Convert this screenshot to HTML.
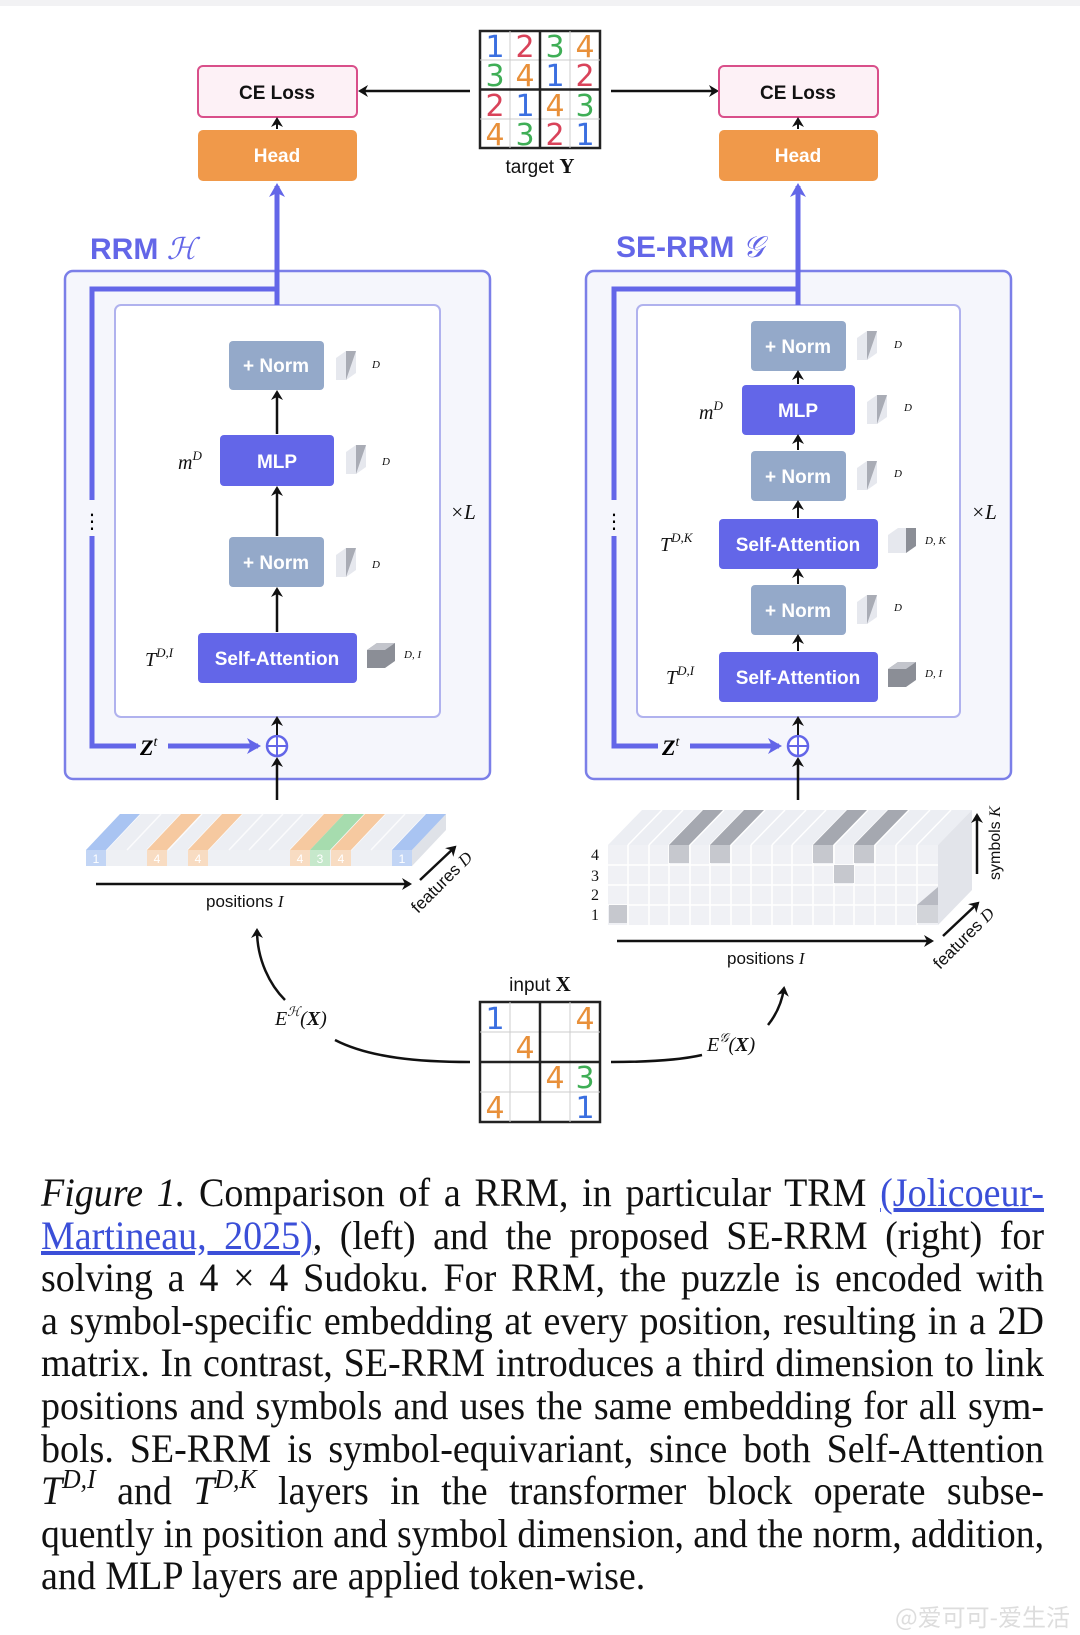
<!DOCTYPE html>
<html><head><meta charset="utf-8"><style>
html,body{margin:0;padding:0;background:#fff;}
body{width:1080px;height:1635px;position:relative;overflow:hidden;}
#cap{position:absolute;left:41px;top:1172px;width:1003px;font-family:"Liberation Serif",serif;font-size:40px;line-height:42.6px;color:#111;}
#cap div{height:42.6px;white-space:nowrap;overflow:visible;}
#cap span.l{display:inline-block;white-space:nowrap;transform-origin:0 0;transform:scaleX(0.88);}
#cap a{color:#3b4fd8;text-decoration:underline;}
.ss{font-size:27px;position:relative;top:-16px;font-style:italic;line-height:0;}
</style></head><body>
<svg width="1080" height="1160" viewBox="0 0 1080 1160" style="position:absolute;left:0;top:0" font-family="Liberation Sans, DejaVu Sans, sans-serif">
<defs>
<marker id="a" markerWidth="12" markerHeight="12" refX="8" refY="6" orient="auto" markerUnits="userSpaceOnUse"><path d="M0,0 L10,6 L0,12 L3,6z" fill="#111"/></marker>
<marker id="b" markerWidth="16" markerHeight="16" refX="11" refY="8" orient="auto" markerUnits="userSpaceOnUse"><path d="M0,0 L14,8 L0,16 L4,8z" fill="#6366e8"/></marker>
</defs>
<rect x="0" y="0" width="1080" height="6" fill="#f2f2f4"/>
<g font-size="30" text-anchor="middle" font-family="DejaVu Sans, sans-serif">
<rect x="480" y="31" width="120" height="117" fill="#fff" stroke="#222" stroke-width="2.5"/>
<path d="M510 31V148M570 31V148M480 60H600M480 119H600" stroke="#ccc" stroke-width="1"/>
<path d="M540 31V148M480 89.5H600" stroke="#222" stroke-width="2.5"/>
<text x="495" y="57" fill="#3b6fe0">1</text><text x="525" y="57" fill="#d9435a">2</text><text x="555" y="57" fill="#3fae56">3</text><text x="585" y="57" fill="#e8903a">4</text>
<text x="495" y="86" fill="#3fae56">3</text><text x="525" y="86" fill="#e8903a">4</text><text x="555" y="86" fill="#3b6fe0">1</text><text x="585" y="86" fill="#d9435a">2</text>
<text x="495" y="116" fill="#d9435a">2</text><text x="525" y="116" fill="#3b6fe0">1</text><text x="555" y="116" fill="#e8903a">4</text><text x="585" y="116" fill="#3fae56">3</text>
<text x="495" y="145" fill="#e8903a">4</text><text x="525" y="145" fill="#3fae56">3</text><text x="555" y="145" fill="#d9435a">2</text><text x="585" y="145" fill="#3b6fe0">1</text>
</g>
<text x="540" y="173" font-size="19" text-anchor="middle" fill="#111">target <tspan font-family="Liberation Serif" font-weight="bold" font-size="21">Y</tspan></text>
<path d="M470 91H360" stroke="#111" stroke-width="2.5" marker-end="url(#a)"/>
<path d="M611 91H717" stroke="#111" stroke-width="2.5" marker-end="url(#a)"/>
<g font-size="19" font-weight="bold" text-anchor="middle">
<rect x="198" y="66" width="159" height="51" rx="5" fill="#fdf1f6" stroke="#d94f8a" stroke-width="2"/>
<text x="277" y="99" fill="#111">CE Loss</text>
<rect x="719" y="66" width="159" height="51" rx="5" fill="#fdf1f6" stroke="#d94f8a" stroke-width="2"/>
<text x="798" y="99" fill="#111">CE Loss</text>
<rect x="198" y="130" width="159" height="51" rx="5" fill="#f0994a"/>
<text x="277" y="162" fill="#fff">Head</text>
<rect x="719" y="130" width="159" height="51" rx="5" fill="#f0994a"/>
<text x="798" y="162" fill="#fff">Head</text>
</g>
<path d="M277 129V119" stroke="#111" stroke-width="2" marker-end="url(#a)"/>
<path d="M798 129V119" stroke="#111" stroke-width="2" marker-end="url(#a)"/>
<text x="90" y="259" font-size="30" font-weight="bold" fill="#6366e8">RRM <tspan font-family="Liberation Serif" font-style="italic" font-weight="normal">ℋ</tspan></text>
<text x="616" y="257" font-size="30" font-weight="bold" fill="#6366e8">SE-RRM <tspan font-family="Liberation Serif" font-style="italic" font-weight="normal">𝒢</tspan></text>
<!-- LEFT -->
<rect x="65" y="271" width="425" height="508" rx="8" fill="#f5f6fc" stroke="#7b7fe8" stroke-width="2.5"/>
<rect x="115" y="305" width="325" height="412" rx="6" fill="#fff" stroke="#b0b2ee" stroke-width="2"/>
<path d="M277 305V289H92V746H258" fill="none" stroke="#6366e8" stroke-width="5" marker-end="url(#b)"/>
<path d="M277 289V186" fill="none" stroke="#6366e8" stroke-width="5" marker-end="url(#b)"/>
<rect x="86" y="500" width="12" height="36" fill="#f5f6fc"/>
<text x="92" y="528" font-size="20" text-anchor="middle">⋮</text>
<rect x="136" y="734" width="32" height="26" fill="#f5f6fc"/>
<text x="140" y="755" font-family="Liberation Serif" font-weight="bold" font-style="italic" font-size="22">Z<tspan font-size="14" dy="-9" font-weight="normal">t</tspan></text>
<circle cx="277" cy="746" r="10" fill="#fff" stroke="#6366e8" stroke-width="2.5"/>
<path d="M267 746H287M277 736V756" stroke="#6366e8" stroke-width="2"/>
<path d="M277 800V759" stroke="#111" stroke-width="2.5" marker-end="url(#a)"/>
<path d="M277 735V718" stroke="#111" stroke-width="2" marker-end="url(#a)"/>
<g font-size="19" font-weight="bold" text-anchor="middle" fill="#fff">
<rect x="229" y="341" width="95" height="49" rx="4" fill="#94a9c9"/><text x="276" y="372">+ Norm</text>
<rect x="220" y="435" width="114" height="51" rx="4" fill="#6366e8"/><text x="277" y="468">MLP</text>
<rect x="229" y="537" width="95" height="50" rx="4" fill="#94a9c9"/><text x="276" y="569">+ Norm</text>
<rect x="198" y="633" width="159" height="50" rx="4" fill="#6366e8"/><text x="277" y="665">Self-Attention</text>
</g>
<path d="M277 434V392" stroke="#111" stroke-width="2.5" marker-end="url(#a)"/>
<path d="M277 536V488" stroke="#111" stroke-width="2.5" marker-end="url(#a)"/>
<path d="M277 632V589" stroke="#111" stroke-width="2.5" marker-end="url(#a)"/>
<g font-family="Liberation Serif" font-style="italic" fill="#111">
<text x="178" y="469" font-size="20">m<tspan font-size="13" dy="-9">D</tspan></text>
<text x="145" y="666" font-size="20">T<tspan font-size="13" dy="-9">D,I</tspan></text>
<text x="450" y="519" font-size="21">×L</text>
<text x="372" y="368" font-size="11">D</text><text x="382" y="465" font-size="11">D</text>
<text x="372" y="568" font-size="11">D</text><text x="404" y="658" font-size="11">D, I</text>
</g>
<g>
<path d="M336 358l10-7h10v22l-10 7h-10z" fill="#e6e8ee"/><path d="M346 351h10l-10 29z" fill="#a9acb5"/>
<path d="M346 452l10-7h10v22l-10 7h-10z" fill="#e6e8ee"/><path d="M356 445h10l-10 29z" fill="#a9acb5"/>
<path d="M336 555l10-7h10v22l-10 7h-10z" fill="#e6e8ee"/><path d="M346 548h10l-10 29z" fill="#a9acb5"/>
<path d="M367 650l10-7h18v18l-10 7h-18z" fill="#8b8e96"/><path d="M367 650l10-7h18l-10 7z" fill="#c3c5cc"/>
</g>
<!-- RIGHT -->
<rect x="586" y="271" width="425" height="508" rx="8" fill="#f5f6fc" stroke="#7b7fe8" stroke-width="2.5"/>
<rect x="637" y="305" width="323" height="412" rx="6" fill="#fff" stroke="#b0b2ee" stroke-width="2"/>
<path d="M798 305V289H614V746H779" fill="none" stroke="#6366e8" stroke-width="5" marker-end="url(#b)"/>
<path d="M798 289V186" fill="none" stroke="#6366e8" stroke-width="5" marker-end="url(#b)"/>
<rect x="608" y="500" width="12" height="36" fill="#f5f6fc"/>
<text x="614" y="528" font-size="20" text-anchor="middle">⋮</text>
<rect x="658" y="734" width="32" height="26" fill="#f5f6fc"/>
<text x="662" y="755" font-family="Liberation Serif" font-weight="bold" font-style="italic" font-size="22">Z<tspan font-size="14" dy="-9" font-weight="normal">t</tspan></text>
<circle cx="798" cy="746" r="10" fill="#fff" stroke="#6366e8" stroke-width="2.5"/>
<path d="M788 746H808M798 736V756" stroke="#6366e8" stroke-width="2"/>
<path d="M798 800V759" stroke="#111" stroke-width="2.5" marker-end="url(#a)"/>
<path d="M798 735V718" stroke="#111" stroke-width="2" marker-end="url(#a)"/>
<g font-size="19" font-weight="bold" text-anchor="middle" fill="#fff">
<rect x="751" y="321" width="95" height="50" rx="4" fill="#94a9c9"/><text x="798" y="353">+ Norm</text>
<rect x="742" y="385" width="113" height="50" rx="4" fill="#6366e8"/><text x="798" y="417">MLP</text>
<rect x="751" y="451" width="95" height="50" rx="4" fill="#94a9c9"/><text x="798" y="483">+ Norm</text>
<rect x="719" y="519" width="159" height="50" rx="4" fill="#6366e8"/><text x="798" y="551">Self-Attention</text>
<rect x="751" y="585" width="95" height="50" rx="4" fill="#94a9c9"/><text x="798" y="617">+ Norm</text>
<rect x="719" y="652" width="159" height="50" rx="4" fill="#6366e8"/><text x="798" y="684">Self-Attention</text>
</g>
<path d="M798 384V372" stroke="#111" stroke-width="2" marker-end="url(#a)"/>
<path d="M798 450V436" stroke="#111" stroke-width="2" marker-end="url(#a)"/>
<path d="M798 518V502" stroke="#111" stroke-width="2" marker-end="url(#a)"/>
<path d="M798 584V570" stroke="#111" stroke-width="2" marker-end="url(#a)"/>
<path d="M798 651V636" stroke="#111" stroke-width="2" marker-end="url(#a)"/>
<g font-family="Liberation Serif" font-style="italic" fill="#111">
<text x="699" y="419" font-size="20">m<tspan font-size="13" dy="-9">D</tspan></text>
<text x="660" y="551" font-size="20">T<tspan font-size="13" dy="-9">D,K</tspan></text>
<text x="666" y="684" font-size="20">T<tspan font-size="13" dy="-9">D,I</tspan></text>
<text x="971" y="519" font-size="21">×L</text>
<text x="894" y="348" font-size="11">D</text><text x="904" y="411" font-size="11">D</text>
<text x="894" y="477" font-size="11">D</text><text x="925" y="544" font-size="11">D, K</text>
<text x="894" y="611" font-size="11">D</text><text x="925" y="677" font-size="11">D, I</text>
</g>
<g>
<path d="M857 338l10-7h10v22l-10 7h-10z" fill="#e6e8ee"/><path d="M867 331h10l-10 29z" fill="#a9acb5"/>
<path d="M867 402l10-7h10v22l-10 7h-10z" fill="#e6e8ee"/><path d="M877 395h10l-10 29z" fill="#a9acb5"/>
<path d="M857 468l10-7h10v22l-10 7h-10z" fill="#e6e8ee"/><path d="M867 461h10l-10 29z" fill="#a9acb5"/>
<path d="M888 535l10-7h18v18l-10 7h-18z" fill="#e6e8ee"/><path d="M906 528h10v18l-10 7z" fill="#8b8e96"/>
<path d="M857 602l10-7h10v22l-10 7h-10z" fill="#e6e8ee"/><path d="M867 595h10l-10 29z" fill="#a9acb5"/>
<path d="M888 669l10-7h18v18l-10 7h-18z" fill="#8b8e96"/><path d="M888 669l10-7h18l-10 7z" fill="#c3c5cc"/>
</g>
<!-- left embedding -->
<path d="M86 850L120 814H446L412 850Z" fill="#eceef3"/>
<rect x="86" y="850" width="326" height="16" fill="#eef0f4"/>
<path d="M412 850L446 814V830L412 866Z" fill="#dfe2e8"/>
<g stroke="#fff" stroke-width="1.5" opacity="0.8">
<path d="M106 850l34-36M127 850l34-36M147 850l34-36M168 850l34-36M188 850l34-36M208 850l34-36M229 850l34-36M249 850l34-36M269 850l34-36M290 850l34-36M310 850l34-36M331 850l34-36M351 850l34-36M371 850l34-36M392 850l34-36"/>
</g>
<path d="M86 850l34-36h20l-34 36z" fill="#a9c4f2"/><rect x="86" y="850" width="20" height="16" fill="#c2d5f5"/>
<path d="M147 850l34-36h20l-34 36z" fill="#f6c9a0"/><rect x="147" y="850" width="20" height="16" fill="#f8dcc2"/>
<path d="M188 850l34-36h20l-34 36z" fill="#f6c9a0"/><rect x="188" y="850" width="20" height="16" fill="#f8dcc2"/>
<path d="M290 850l34-36h20l-34 36z" fill="#f6c9a0"/><rect x="290" y="850" width="20" height="16" fill="#f8dcc2"/>
<path d="M310 850l34-36h20l-34 36z" fill="#a6dcae"/><rect x="310" y="850" width="20" height="16" fill="#c6e8cb"/>
<path d="M331 850l34-36h20l-34 36z" fill="#f6c9a0"/><rect x="331" y="850" width="20" height="16" fill="#f8dcc2"/>
<path d="M392 850l34-36h20l-34 36z" fill="#a9c4f2"/><rect x="392" y="850" width="20" height="16" fill="#c2d5f5"/>
<g font-size="12" fill="#fff" text-anchor="middle"><text x="96" y="863">1</text><text x="157" y="863">4</text><text x="198" y="863">4</text><text x="300" y="863">4</text><text x="320" y="863">3</text><text x="341" y="863">4</text><text x="402" y="863">1</text></g>
<path d="M96 884H410" stroke="#111" stroke-width="2.5" marker-end="url(#a)"/>
<text x="206" y="907" font-size="17" fill="#111">positions <tspan font-family="Liberation Serif" font-style="italic">I</tspan></text>
<path d="M420 880L455 847" stroke="#111" stroke-width="2.5" marker-end="url(#a)"/>
<text x="0" y="0" font-size="17" fill="#111" transform="translate(418,914) rotate(-45)">features <tspan font-family="Liberation Serif" font-style="italic">D</tspan></text>
<!-- right 3D embedding -->
<path d="M608 845L642 810H972L938 845Z" fill="#eceef3"/>
<rect x="608" y="845" width="330" height="80" fill="#f0f1f5"/>
<path d="M938 845L972 810V890L938 925Z" fill="#e2e4ea"/>
<g stroke="#fff" stroke-width="1.5">
<path d="M608 865H938M608 885H938M608 905H938"/>
<path d="M628 845v80M649 845v80M669 845v80M690 845v80M710 845v80M731 845v80M751 845v80M772 845v80M792 845v80M813 845v80M834 845v80M854 845v80M875 845v80M896 845v80M917 845v80"/>
<path d="M628 845l34-35M649 845l34-35M669 845l34-35M690 845l34-35M710 845l34-35M731 845l34-35M751 845l34-35M772 845l34-35M792 845l34-35M813 845l34-35M834 845l34-35M854 845l34-35M875 845l34-35M896 845l34-35M917 845l34-35"/>
</g>
<g fill="#a5a8b0">
<path d="M669 845l34-35h20l-34 35z"/><rect x="669" y="845" width="20" height="18" fill="#c6c8ce"/>
<path d="M710 845l34-35h20l-34 35z"/><rect x="710" y="845" width="20" height="18" fill="#c6c8ce"/>
<path d="M813 845l34-35h20l-34 35z"/><rect x="813" y="845" width="20" height="18" fill="#c6c8ce"/>
<path d="M854 845l34-35h20l-34 35z"/><rect x="854" y="845" width="20" height="18" fill="#c6c8ce"/>
<rect x="834" y="865" width="20" height="18" fill="#c6c8ce"/>
<rect x="609" y="905" width="18" height="18" fill="#c6c8ce"/>
<path d="M917 905l21-18v18l-21 18z" fill="#b8bac2"/><rect x="917" y="905" width="21" height="18" fill="#d2d4d9"/>
</g>
<g font-family="Liberation Serif" font-size="16" fill="#111" text-anchor="middle"><text x="595" y="860">4</text><text x="595" y="881">3</text><text x="595" y="900">2</text><text x="595" y="920">1</text></g>
<path d="M617 941H932" stroke="#111" stroke-width="2.5" marker-end="url(#a)"/>
<text x="727" y="964" font-size="17" fill="#111">positions <tspan font-family="Liberation Serif" font-style="italic">I</tspan></text>
<path d="M943 936L978 903" stroke="#111" stroke-width="2.5" marker-end="url(#a)"/>
<text x="0" y="0" font-size="17" fill="#111" transform="translate(940,970) rotate(-45)">features <tspan font-family="Liberation Serif" font-style="italic">D</tspan></text>
<path d="M977 874V815" stroke="#111" stroke-width="2.5" marker-end="url(#a)"/>
<text x="0" y="0" font-size="16" fill="#111" transform="translate(1000,880) rotate(-90)">symbols <tspan font-family="Liberation Serif" font-style="italic">K</tspan></text>
<!-- input grid -->
<text x="540" y="991" font-size="19" text-anchor="middle" fill="#111">input <tspan font-family="Liberation Serif" font-weight="bold" font-size="21">X</tspan></text>
<rect x="480" y="1002" width="120" height="120" fill="#fff" stroke="#222" stroke-width="2.5"/>
<path d="M510 1002V1122M570 1002V1122M480 1032H600M480 1092H600" stroke="#ccc" stroke-width="1"/>
<path d="M540 1002V1122M480 1062H600" stroke="#222" stroke-width="2.5"/>
<g font-size="30" text-anchor="middle" font-family="DejaVu Sans, sans-serif">
<text x="495" y="1029" fill="#3b6fe0">1</text><text x="585" y="1029" fill="#e8903a">4</text>
<text x="525" y="1058" fill="#e8903a">4</text>
<text x="555" y="1088" fill="#e8903a">4</text><text x="585" y="1088" fill="#3fae56">3</text>
<text x="495" y="1118" fill="#e8903a">4</text><text x="585" y="1118" fill="#3b6fe0">1</text>
</g>
<path d="M470 1062C420 1062 370 1058 335 1040" fill="none" stroke="#111" stroke-width="2.5"/>
<path d="M285 1000C270 985 257 960 257 930" fill="none" stroke="#111" stroke-width="2.5" marker-end="url(#a)"/>
<text x="275" y="1025" font-family="Liberation Serif" font-style="italic" font-size="20" fill="#111">E<tspan font-size="13" dy="-9">ℋ</tspan><tspan dy="9">(</tspan><tspan font-weight="bold">X</tspan>)</text>
<path d="M611 1062C645 1062 680 1060 702 1055" fill="none" stroke="#111" stroke-width="2.5"/>
<path d="M768 1025C776 1015 782 1002 784 988" fill="none" stroke="#111" stroke-width="2.5" marker-end="url(#a)"/>
<text x="707" y="1051" font-family="Liberation Serif" font-style="italic" font-size="20" fill="#111">E<tspan font-size="13" dy="-9">𝒢</tspan><tspan dy="9">(</tspan><tspan font-weight="bold">X</tspan>)</text>
</svg>
<div id="cap">
<div><span class="l"><i>Figure 1.</i> Comparison of a RRM, in particular TRM <a>(Jolicoeur-</a></span></div>
<div><span class="l"><a>Martineau, 2025)</a>, (left) and the proposed SE-RRM (right) for</span></div>
<div><span class="l">solving a 4 × 4 Sudoku. For RRM, the puzzle is encoded with</span></div>
<div><span class="l">a symbol-specific embedding at every position, resulting in a 2D</span></div>
<div><span class="l">matrix. In contrast, SE-RRM introduces a third dimension to link</span></div>
<div><span class="l">positions and symbols and uses the same embedding for all sym-</span></div>
<div><span class="l">bols. SE-RRM is symbol-equivariant, since both Self-Attention</span></div>
<div><span class="l"><i>T</i><span class="ss">D,I</span> and <i>T</i><span class="ss">D,K</span> layers in the transformer block operate subse-</span></div>
<div><span class="l">quently in position and symbol dimension, and the norm, addition,</span></div>
<div><span class="l last">and MLP layers are applied token-wise.</span></div>
</div>
<div style="position:absolute;right:10px;top:1598px;font-family:'Noto Sans CJK SC',sans-serif;font-size:24px;color:#ddd;">@爱可可-爱生活</div>
<script>
(function(){
var W=1003;
var ls=document.querySelectorAll('#cap span.l');
for(var i=0;i<ls.length;i++){
 var e=ls[i];e.style.transform='none';
 var w=e.getBoundingClientRect().width;
 var s=Math.min(0.95,W/w);
 if(e.className.indexOf('last')>=0){e.style.transform='scaleX('+s+')';continue;}
 var n=(e.textContent.match(/ /g)||[]).length;
 var extra=(W/s-w)/Math.max(n,1);
 e.style.wordSpacing=extra+'px';
 var w2=e.getBoundingClientRect().width;
 s=W/w2;
 e.style.transform='scaleX('+s+')';
}
})();
</script>
</body></html>
